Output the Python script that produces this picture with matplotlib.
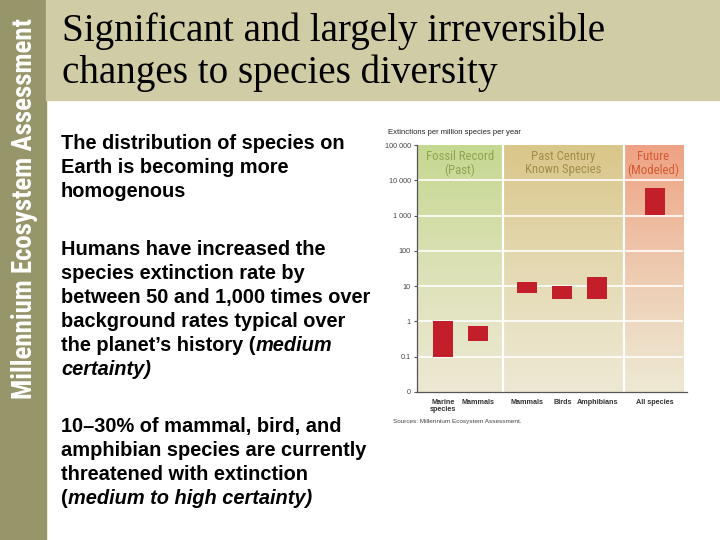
import numpy as np
import matplotlib.pyplot as plt
from matplotlib.colors import to_rgb

plt.rcParams['font.family'] = ['Liberation Sans', 'DejaVu Sans']

# datos del gráfico
groups = ['Marine\nspecies', 'Mammals', 'Mammals', 'Birds', 'Amphibians', 'All species']
rate_low = [0.1, 0.28, 6.6, 4.4, 4.4, 1050]
rate_high = [1.0, 0.75, 12.7, 10.4, 18, 5900]
ytick_vals = [0.01, 0.1, 1, 10, 100, 1000, 10000, 100000]
ytick_labels = ['0', '0.1', '1', '10', '100', '1 000', '10 000', '100 000']
sections = ['Fossil Record\n(Past)', 'Past Century\nKnown Species', 'Future\n(Modeled)']

title_lines = ['Significant and largely irreversible', 'changes to species diversity']
paragraphs = [
    [[('The distribution of species on', 'normal')],
     [('Earth is becoming more', 'normal')],
     [('homogenous', 'normal')]],
    [[('Humans have increased the', 'normal')],
     [('species extinction rate by', 'normal')],
     [('between 50 and 1,000 times over', 'normal')],
     [('background rates typical over', 'normal')],
     [('the planet\u2019s history (', 'normal'), ('medium', 'italic')],
     [('certainty)', 'italic')]],
    [[('10\u201330% of mammal, bird, and', 'normal')],
     [('amphibian species are currently', 'normal')],
     [('threatened with extinction', 'normal')],
     [('(', 'normal'), ('medium to high certainty)', 'italic')]],
]

W, H = 720, 540
fig = plt.figure(figsize=(7.2, 5.4), dpi=100)
fig.patch.set_facecolor('white')

def fx(px):
    return px / W

def fy(py):
    return 1 - py / H

narrow = ['Roboto Condensed', 'Roboto', 'DejaVu Sans']

# barra lateral y banda del título
fig.patches.append(plt.Rectangle((0, 0), fx(46), 1, transform=fig.transFigure,
                                 color='#96966a', zorder=0))
fig.patches.append(plt.Rectangle((fx(46), fy(100)), 1 - fx(46), fy(0) - fy(100),
                                 transform=fig.transFigure, color='#cfcca6', zorder=0))
fig.text(fx(25), fy(209), 'Millennium Ecosystem Assessment', rotation=90,
         ha='center', va='center', color='white', fontsize=19.4, fontweight='bold',
         family=narrow)

for i, line in enumerate(title_lines):
    fig.text(fx(62), fy(41 + 42 * i), line, fontsize=28.2, family='Liberation Serif',
             va='baseline', color='black')

# texto del cuerpo
renderer = fig.canvas.get_renderer()
baselines = [[149, 173, 197], [255, 279, 303, 327, 351, 375], [432, 456, 480, 504]]
for para, ys in zip(paragraphs, baselines):
    for parts, yb in zip(para, ys):
        x = fx(61)
        for txt, style in parts:
            t = fig.text(x, fy(yb), txt, fontsize=14.4, fontweight='bold',
                         fontstyle=style, family='Liberation Sans', va='baseline')
            bb = t.get_window_extent(renderer)
            x = bb.x1 / fig.bbox.width

# gráfico
rect = [fx(417), fy(392), fx(683) - fx(417), fy(145) - fy(392)]
x_pos = [0.75, 1.75, 3.15, 4.15, 5.15, 6.8]
edges = [0, 2.45, 5.9, 7.6]
tops = ['#c5d891', '#d9c689', '#efa283']
bottom_col = np.array(to_rgb('#ede8d2'))
head_cols = ['#8fa450', '#a38d48', '#d55a36']

bg = fig.add_axes(rect, zorder=0)
bg.set_xlim(0, edges[-1])
bg.set_ylim(0, 1)
bg.axis('off')
t = np.linspace(0, 1, 200)[:, None]
for k in range(3):
    top = np.array(to_rgb(tops[k]))
    mix = t ** 1.2
    grad = (bottom_col * (1 - mix) + top * mix)[:, None, :]
    bg.imshow(np.repeat(grad, 2, axis=1), extent=(edges[k], edges[k + 1], 0, 1),
              origin='lower', aspect='auto', interpolation='bilinear')

ax = fig.add_axes(rect, zorder=1)
ax.patch.set_alpha(0)
ax.set_yscale('log')
ax.set_ylim(0.01, 100000)
ax.set_xlim(0, edges[-1])
for v in ytick_vals[1:-1]:
    ax.axhline(v, color='white', lw=1.2, zorder=1)
for e in edges[1:-1]:
    ax.axvline(e, color='white', lw=1.6, zorder=1)

low = np.array(rate_low)
high = np.array(rate_high)
ax.bar(x_pos, high - low, bottom=low, width=0.57, color='#c21f2b', zorder=3)

for k, name in enumerate(sections):
    ax.text((edges[k] + edges[k + 1]) / 2, 30000, name, ha='center', va='center',
            color=head_cols[k], fontsize=9.2, linespacing=1.0, family=narrow)

ax.set_yticks(ytick_vals)
ax.set_yticklabels(ytick_labels)
ax.minorticks_off()
ax.tick_params(axis='y', labelsize=5.2, colors='#555555', length=2.5, width=0.8,
               pad=2, labelcolor='#444444')
ax.set_xticks(x_pos)
ax.set_xticklabels(groups, fontsize=5.2, fontweight='bold', color='#333333',
                   linespacing=0.95, va='top')
ax.tick_params(axis='x', length=0, pad=5)
for s in ['top', 'right']:
    ax.spines[s].set_visible(False)
for s in ['left', 'bottom']:
    ax.spines[s].set_color('#555555')
    ax.spines[s].set_linewidth(0.9)
ax.spines['bottom'].set_bounds(0, 7.7)

fig.text(fx(388), fy(133), 'Extinctions per million species per year', fontsize=5.5,
         color='#222222', va='center')
fig.text(fx(393), fy(422), 'Sources: Millennium Ecosystem Assessment.', fontsize=4.6,
         color='#444444', va='center')

fig.savefig('out.png', dpi=100)
